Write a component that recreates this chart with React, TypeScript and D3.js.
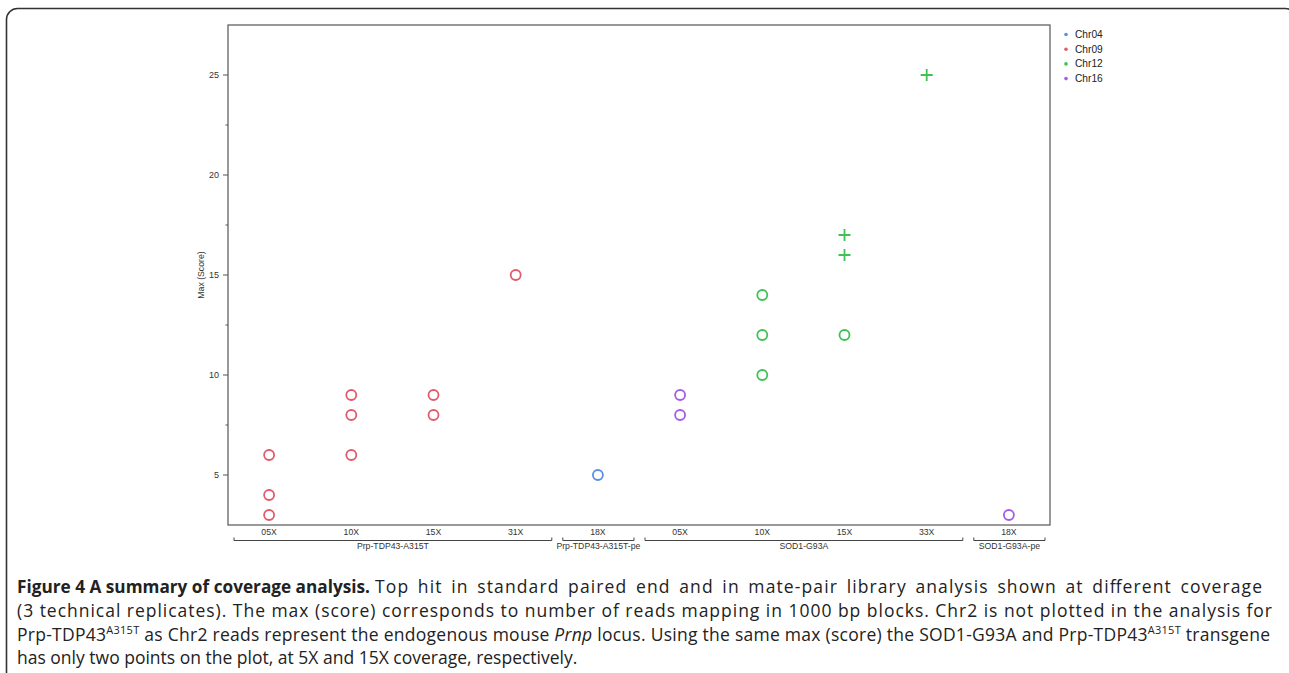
import React from "react";
import * as d3 from "d3";

const categories = ["05X", "10X", "15X", "31X", "18X", "05X", "10X", "15X", "33X", "18X"];
const groupLabels = ["Prp-TDP43-A315T", "Prp-TDP43-A315T-pe", "SOD1-G93A", "SOD1-G93A-pe"];
const groupStart = [0, 4, 5, 9];
const groupEnd = [3, 4, 8, 9];

const seriesNames = ["Chr04", "Chr09", "Chr12", "Chr16"];
const seriesColors = ["#5b8ee6", "#e25a6c", "#3fc153", "#a45de6"];

// [categoryIndex, value]
const chr04Circles: [number, number][] = [[4, 5]];
const chr09Circles: [number, number][] = [[0, 6], [0, 4], [0, 3], [1, 9], [1, 8], [1, 6], [2, 9], [2, 8], [3, 15]];
const chr12Circles: [number, number][] = [[6, 14], [6, 12], [6, 10], [7, 12]];
const chr12Plus: [number, number][] = [[7, 17], [7, 16], [8, 25]];
const chr16Circles: [number, number][] = [[5, 9], [5, 8], [9, 3]];

const yTicks = [5, 10, 15, 20, 25];
const yMinorTicks = [7.5, 12.5, 17.5, 22.5];

const W = 1289, H = 673;
const plot = { left: 228, right: 1050, top: 25, bottom: 525 };

export default function App() {
  const x = d3.scaleBand<number>().domain(d3.range(categories.length)).range([plot.left, plot.right]);
  const y = d3.scaleLinear().domain([2.5, 27.5]).range([plot.bottom, plot.top]);
  const cx = (i: number) => (x(i) as number) + x.bandwidth() / 2;

  const circleSets: { pts: [number, number][]; color: string }[] = [
    { pts: chr04Circles, color: seriesColors[0] },
    { pts: chr09Circles, color: seriesColors[1] },
    { pts: chr12Circles, color: seriesColors[2] },
    { pts: chr16Circles, color: seriesColors[3] },
  ];

  const axisFont = "'Liberation Sans', Arial, sans-serif";
  const capFont = "'Open Sans', 'Noto Sans', sans-serif";
  const capSize = 17.5;

  return (
    <svg width={W} height={H} style={{ position: "absolute", left: 0, top: 0, background: "#fff" }}>
      <rect x={6.5} y={8.5} width={1290} height={720} rx={11} ry={11} fill="none" stroke="#333" strokeWidth={1.6} />

      {/* plot frame */}
      <rect x={plot.left} y={plot.top} width={plot.right - plot.left} height={plot.bottom - plot.top} fill="none" stroke="#555" strokeWidth={1.2} />

      {/* y ticks */}
      {yTicks.map((t) => (
        <g key={"t" + t}>
          <line x1={plot.left - 5} x2={plot.left} y1={y(t)} y2={y(t)} stroke="#555" strokeWidth={1} />
          <text x={plot.left - 9} y={y(t)} dy="0.35em" textAnchor="end" fontSize={9} fontFamily={axisFont} fill="#333">{t}</text>
        </g>
      ))}
      {yMinorTicks.map((t) => (
        <line key={"m" + t} x1={plot.left - 2.5} x2={plot.left} y1={y(t)} y2={y(t)} stroke="#555" strokeWidth={1} />
      ))}
      <text transform={`translate(201,${(plot.top + plot.bottom) / 2}) rotate(-90)`} textAnchor="middle" dy="0.35em" fontSize={8.7} fontFamily={axisFont} fill="#333">Max (Score)</text>

      {/* x category labels */}
      {categories.map((c, i) => (
        <text key={"c" + i} x={cx(i)} y={535} textAnchor="middle" fontSize={8.7} fontFamily={axisFont} fill="#333">{c}</text>
      ))}

      {/* group brackets */}
      {groupLabels.map((g, gi) => {
        const x0 = (x(groupStart[gi]) as number) + 6;
        const x1 = (x(groupEnd[gi]) as number) + x.bandwidth() - 5;
        const yb = 540.5;
        return (
          <g key={"g" + gi}>
            <path d={`M${x0},${yb - 3}L${x0},${yb}L${x1},${yb}L${x1},${yb - 3}`} fill="none" stroke="#444" strokeWidth={1} />
            <text x={(x0 + x1) / 2} y={549} textAnchor="middle" fontSize={8.7} fontFamily={axisFont} fill="#333">{g}</text>
          </g>
        );
      })}

      {/* circles */}
      {circleSets.map((s, si) =>
        s.pts.map((p, pi) => (
          <circle key={`c${si}-${pi}`} cx={cx(p[0])} cy={y(p[1])} r={5} fill="none" stroke={s.color} strokeWidth={1.8} />
        ))
      )}
      {/* plus markers */}
      {chr12Plus.map((p, pi) => {
        const px = cx(p[0]), py = y(p[1]);
        return (
          <path key={"p" + pi} d={`M${px - 6},${py}L${px + 6},${py}M${px},${py - 6}L${px},${py + 6}`} stroke={seriesColors[2]} strokeWidth={1.8} fill="none" />
        );
      })}

      {/* legend */}
      {seriesNames.map((n, i) => (
        <g key={"l" + i} transform={`translate(1066,${34.5 + i * 14.7})`}>
          <circle cx={0} cy={0} r={1.8} fill={seriesColors[i]} />
          <text x={9} y={0} dy="0.35em" fontSize={10.2} fontFamily={axisFont} fill="#222">{n}</text>
        </g>
      ))}

      {/* caption */}
      <g fontFamily={capFont} fontSize={capSize} fill="#222">
        <text x={17} y={593} fontWeight="bold" textLength={353} lengthAdjust="spacingAndGlyphs">Figure 4 A summary of coverage analysis.</text>
        <text x={375} y={593} wordSpacing={3} textLength={887} lengthAdjust="spacing">Top hit in standard paired end and in mate-pair library analysis shown at different coverage</text>
        <text x={17} y={617} textLength={1255} lengthAdjust="spacing">
          (3 technical replicates). The max (score) corresponds to number of reads mapping in 1000 bp blocks. Chr2 is not plotted in the analysis for
        </text>
        <text x={17} y={640.5} textLength={1253} lengthAdjust="spacing">
          <tspan>Prp-TDP43</tspan>
          <tspan fontSize={11} dy={-6.5}>A315T</tspan>
          <tspan dy={6.5}> as Chr2 reads represent the endogenous mouse </tspan>
          <tspan fontStyle="italic">Prnp</tspan>
          <tspan> locus. Using the same max (score) the SOD1-G93A and Prp-TDP43</tspan>
          <tspan fontSize={11} dy={-6.5}>A315T</tspan>
          <tspan dy={6.5}> transgene</tspan>
        </text>
        <text x={17} y={664}>has only two points on the plot, at 5X and 15X coverage, respectively.</text>
      </g>
    </svg>
  );
}
